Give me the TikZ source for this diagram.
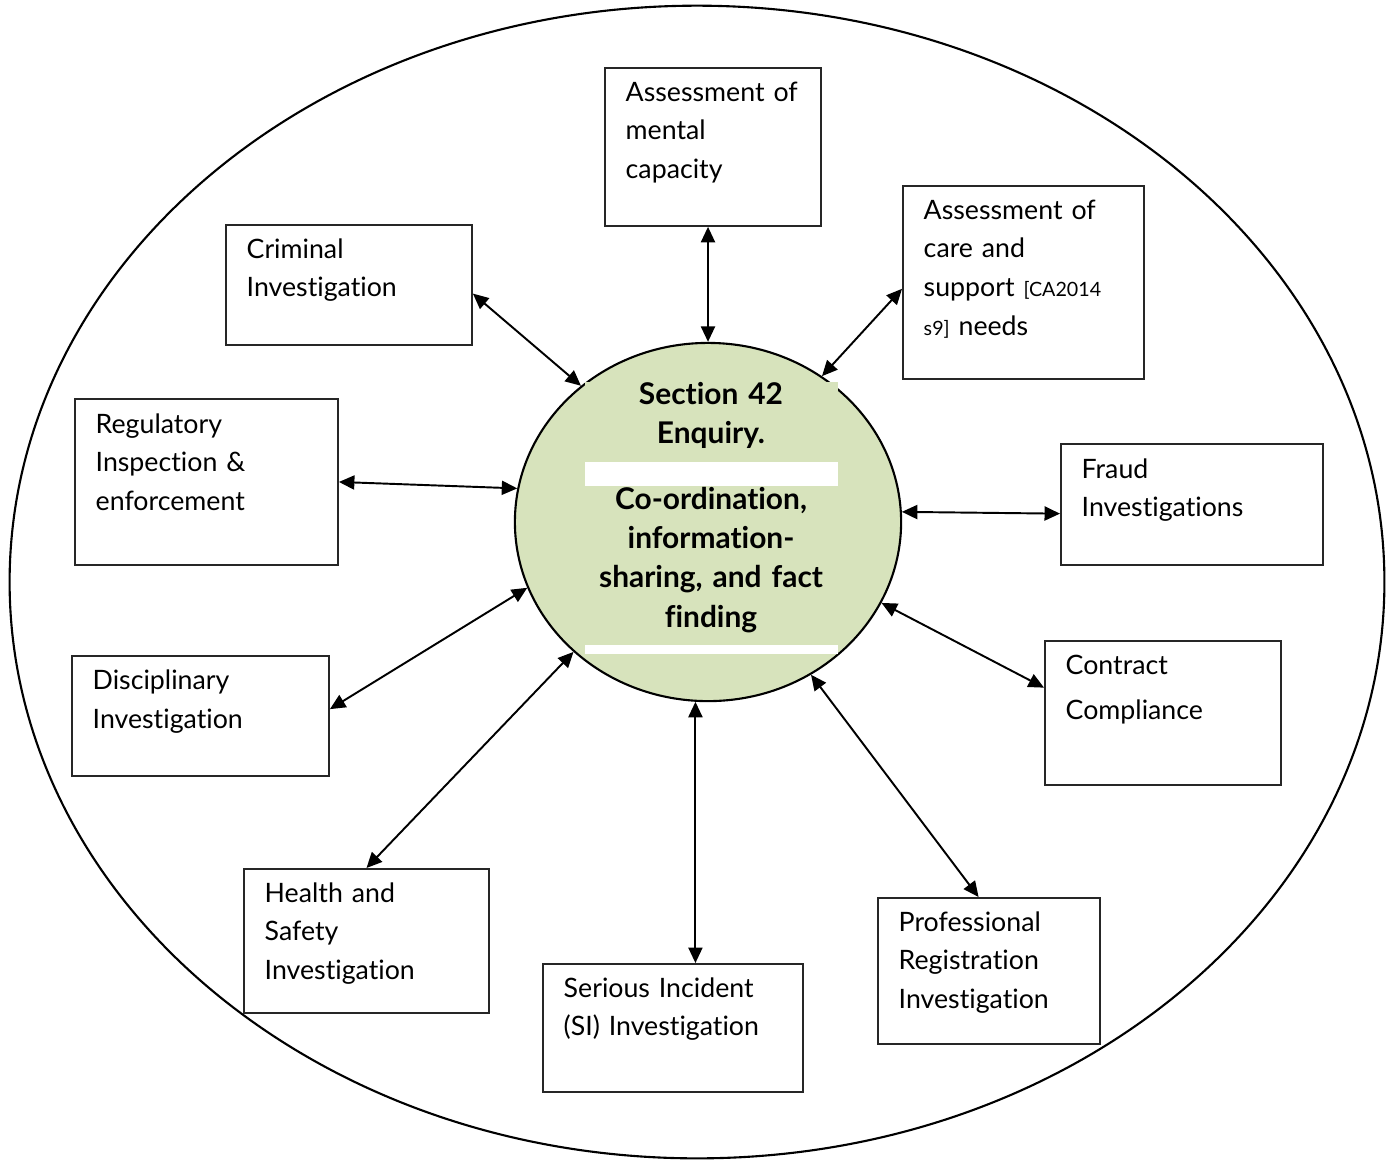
\documentclass[tikz,border=0pt]{standalone}
\usepackage{fontspec}
\setmainfont{Lato}[Ligatures=NoCommon]
\usepackage{tikz}
\usetikzlibrary{arrows.meta}
\usetikzlibrary{scopes}
\usetikzlibrary{shapes.geometric}
\usepackage{xcolor}

\begin{document}
\begin{tikzpicture}[x=0.01cm,y=-0.01cm,
  box/.style={draw=black!85,line width=0.5pt,anchor=north west,inner sep=0},
  boxtext/.style={anchor=base west,inner sep=0,text width=2.4cm,align=left,
    font=\fontsize{7.6}{11.06}\selectfont},
  hubtext/.style={anchor=base,inner sep=0,text width=2.8cm,align=center,
    font=\fontsize{8.5}{11.2}\selectfont\bfseries},
  link/.style={<->,>={Triangle[length=4.4pt,width=4pt]},line width=0.55pt}]

\definecolor{sage}{RGB}{215,227,188};

\useasboundingbox (0,0) rectangle (1389,1160);

%outer ring
\draw [line width=0.6pt] (697,582) ellipse [x radius=6.87cm,y radius=5.76cm];

%centre
\node [ellipse,draw=black,fill=sage,line width=0.6pt,minimum width=3.86cm,
  minimum height=3.58cm,inner sep=0] (hub) at (708,522) {};
\fill [sage] (585,382) rectangle (838,654);
\fill [white] (585,462) rectangle (838,486);
\fill [white] (585,645) rectangle (838,654);
\node [hubtext] (hubtop) at (711,404) {Section 42\\Enquiry.};
\node [hubtext] (hubbot) at (711,509) {Co-ordination,\\information-\\sharing, and fact\\finding};

%draw rectangles
\node [box,minimum width=2.16cm,minimum height=1.58cm] (mental) at (604,67) {};
\node [box,minimum width=2.41cm,minimum height=1.93cm] (care) at (902,185) {};
\node [box,minimum width=2.46cm,minimum height=1.20cm] (crim) at (225,224) {};
\node [box,minimum width=2.63cm,minimum height=1.66cm] (reg) at (74,398) {};
\node [box,minimum width=2.62cm,minimum height=1.21cm] (fraud) at (1060,443) {};
\node [box,minimum width=2.36cm,minimum height=1.44cm] (contract) at (1044,640) {};
\node [box,minimum width=2.57cm,minimum height=1.20cm] (disc) at (71,655) {};
\node [box,minimum width=2.45cm,minimum height=1.44cm] (health) at (243,868) {};
\node [box,minimum width=2.60cm,minimum height=1.28cm] (si) at (542,963) {};
\node [box,minimum width=2.22cm,minimum height=1.46cm] (prof) at (877,897) {};

%box texts
{[boxtext]
  \node (mentaltxt) at (625,101) {Assessment of\\mental\\capacity};
  \node (caretxt) at (923,219) {Assessment of\\care and\\support {\fontsize{5.6}{11.06}\selectfont[CA2014}\\{\fontsize{5.6}{11.06}\selectfont s9]} needs};
  \node (crimtxt) at (246,258) {Criminal\\Investigation};
  \node (regtxt) at (95,433) {Regulatory\\Inspection \&\\enforcement};
  \node (fraudtxt) at (1081,478) {Fraud\\Investigations};
  \node [font=\fontsize{7.6}{13.04}\selectfont] (contracttxt) at (1065,674) {Contract\\Compliance};
  \node [font=\fontsize{7.6}{11.3}\selectfont] (disctxt) at (92,689) {Disciplinary\\Investigation};
  \node (healthtxt) at (264,902) {Health and\\Safety\\Investigation};
  \node (sitxt) at (563,997) {Serious Incident\\(SI) Investigation};
  \node (proftxt) at (898,931) {Professional\\Registration\\Investigation};
}

%links to the enquiry
{[link]
  \draw (hub.north |- mental.south) -- (hub.north);
  \draw (crim.356) -- (hub.133);
  \draw (care.183) -- (hub.52);
  \draw (reg.east) -- (hub.170);
  \draw (fraud.184) -- (hub.3);
  \draw (contract.168) -- (hub.335);
  \draw (disc.3) -- (hub.200);
  \draw (health.north) -- (hub.224);
  \draw (hub.266) -- (hub.266 |- si.north);
  \draw (hub.304) -- (prof.98);
}

\end{tikzpicture}
\end{document}
